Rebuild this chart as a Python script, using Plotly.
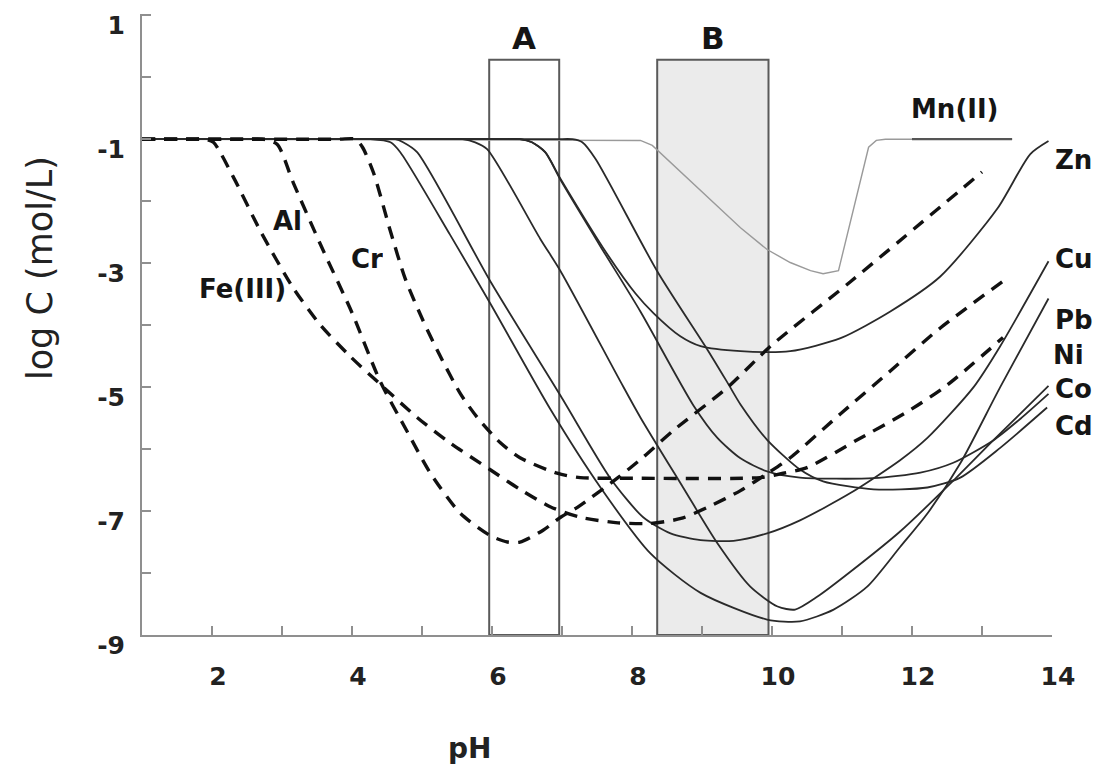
import plotly.graph_objects as go

# ---------------- data (pH, log C) ----------------
fe_ph = [1.0, 1.7, 1.90, 2.02, 2.30, 2.70, 3.16, 3.55, 3.97, 4.40, 4.93, 5.40, 5.97, 6.40, 6.83, 7.26, 7.80, 8.26, 8.70, 9.08, 9.55, 9.95, 10.26, 10.98, 11.69, 12.40, 13.29]
fe_logc = [-1.0, -1.0, -1.0, -1.05, -1.60, -2.50, -3.40, -4.00, -4.50, -4.95, -5.49, -5.90, -6.33, -6.65, -6.93, -7.10, -7.19, -7.20, -7.12, -6.94, -6.67, -6.38, -6.14, -5.43, -4.74, -4.05, -3.30]

al_ph = [1.0, 2.5, 2.72, 2.93, 3.16, 3.55, 4.00, 4.40, 4.79, 5.12, 5.55, 5.98, 6.22, 6.40, 6.73, 6.98, 7.22, 7.79, 8.16, 8.59, 9.36, 9.98, 11.12, 13.0]
al_logc = [-1.0, -1.0, -1.0, -1.08, -1.70, -2.70, -3.80, -4.90, -5.72, -6.39, -7.04, -7.40, -7.50, -7.50, -7.31, -7.10, -6.94, -6.47, -6.13, -5.70, -5.01, -4.34, -3.30, -1.53]

cr_ph = [1.0, 3.8, 4.05, 4.15, 4.31, 4.55, 4.76, 5.02, 5.26, 5.55, 5.79, 6.12, 6.40, 6.93, 7.26, 8.02, 9.83, 10.16, 10.50, 11.22, 11.93, 12.50, 13.30]
cr_logc = [-1.0, -1.0, -1.0, -1.13, -1.55, -2.49, -3.25, -3.94, -4.50, -5.11, -5.49, -5.90, -6.14, -6.39, -6.46, -6.47, -6.46, -6.39, -6.30, -5.85, -5.40, -4.97, -4.20]

mn_ph = [1.0, 8.12, 8.29, 8.47, 8.83, 9.16, 9.55, 9.93, 10.26, 10.55, 10.73, 10.95, 11.38, 11.49, 11.62, 13.43]
mn_logc = [-1.0, -1.02, -1.10, -1.29, -1.66, -2.01, -2.43, -2.78, -2.99, -3.12, -3.17, -3.12, -1.13, -1.02, -1.0, -1.0]
mn_mark_ph = [12.0, 13.43]
mn_mark_logc = [-1.0, -1.0]

zn_ph = [1.0, 6.1, 6.40, 6.57, 6.76, 6.98, 7.65, 8.05, 8.31, 8.69, 8.98, 9.55, 10.26, 10.98, 11.69, 12.40, 13.22, 13.69, 13.95]
zn_logc = [-1.0, -1.0, -1.0, -1.05, -1.21, -1.64, -2.86, -3.49, -3.81, -4.18, -4.34, -4.42, -4.42, -4.21, -3.78, -3.22, -2.12, -1.24, -1.03]

cu_ph = [1.0, 4.3, 4.62, 4.73, 4.93, 5.98, 6.98, 7.69, 8.16, 8.55, 8.98, 9.45, 9.93, 10.40, 11.12, 11.83, 12.22, 12.88, 13.26, 13.95]
cu_logc = [-1.0, -1.0, -1.0, -1.05, -1.21, -3.30, -5.14, -6.47, -7.10, -7.36, -7.47, -7.48, -7.36, -7.15, -6.71, -6.18, -5.82, -5.00, -4.34, -2.97]

pb_ph = [1.0, 4.0, 4.26, 4.55, 4.69, 5.40, 5.98, 6.83, 7.55, 8.26, 8.98, 9.93, 10.40, 10.88, 11.36, 11.83, 12.22, 12.69, 13.26, 13.95]
pb_logc = [-1.0, -1.0, -1.0, -1.05, -1.21, -2.54, -3.66, -5.35, -6.62, -7.68, -8.32, -8.75, -8.78, -8.59, -8.22, -7.58, -7.04, -6.23, -5.00, -3.57]

ni_ph = [1.0, 5.3, 5.58, 5.76, 5.93, 6.69, 6.98, 7.83, 8.12, 8.73, 9.22, 9.69, 10.08, 10.33, 10.65, 11.12, 11.83, 12.59, 13.16, 13.95]
ni_logc = [-1.0, -1.0, -1.0, -1.05, -1.16, -2.61, -3.13, -4.90, -5.49, -6.62, -7.52, -8.22, -8.54, -8.59, -8.38, -7.98, -7.33, -6.51, -5.86, -4.98]

co_ph = [1.0, 6.1, 6.40, 6.57, 6.76, 6.98, 7.55, 8.12, 8.88, 9.22, 9.55, 9.93, 10.40, 11.45, 12.12, 12.59, 13.16, 13.55, 13.95]
co_logc = [-1.0, -1.0, -1.0, -1.05, -1.21, -1.66, -2.73, -3.78, -5.30, -5.82, -6.15, -6.36, -6.46, -6.47, -6.38, -6.22, -5.86, -5.51, -5.11]

cd_ph = [1.0, 6.9, 7.15, 7.29, 7.48, 8.36, 9.08, 9.36, 9.55, 9.93, 10.40, 10.73, 11.45, 12.22, 12.69, 13.26, 13.93]
cd_logc = [-1.0, -1.0, -1.0, -1.05, -1.32, -3.13, -4.40, -4.92, -5.28, -5.85, -6.33, -6.52, -6.65, -6.62, -6.46, -5.98, -5.33]

# pH windows A and B (pH from, pH to, top log C)
window_names = ["A", "B"]
window_from = [5.96, 8.36]
window_to = [6.96, 9.95]
window_top = 0.28

# curve labels (text, pH, log C)
label_text = ["Fe(III)", "Al", "Cr", "Mn(II)", "Zn", "Cu", "Pb", "Ni", "Co", "Cd"]
label_ph = [2.43, 3.08, 4.21, 12.62, 14.31, 14.31, 14.31, 14.24, 14.31, 14.31]
label_logc = [-3.41, -2.32, -2.93, -0.52, -1.34, -2.94, -3.91, -4.48, -5.03, -5.62]

x_ticks = [2, 4, 6, 8, 10, 12, 14]
x_minor = [3, 5, 7, 9, 11, 13]
y_ticks = [-9, -7, -5, -3, -1, 1]
y_minor = [-8, -6, -4, -2, 0]

X_RANGE = [1, 14]
Y_RANGE = [-9, 1.02]

# ---------------- figure ----------------
fig = go.Figure()

DARK = "#2a2a2a"
AXIS = "#8f8f8f"
BOLD = "DejaVu Sans"

# windows
for name, a, b in zip(window_names, window_from, window_to):
    fig.add_shape(type="rect", xref="x", yref="y", x0=a, x1=b, y0=Y_RANGE[0], y1=window_top,
                  line=dict(color="#5a5a5a", width=2),
                  fillcolor="#ebebeb" if name == "B" else "rgba(0,0,0,0)", layer="below")
    fig.add_annotation(x=(a + b) / 2, y=window_top, yshift=22, text=name, showarrow=False,
                       xanchor="center", yanchor="middle",
                       font=dict(family=BOLD, size=31, color="#151515", weight="bold"))

# Mn (thin grey)
fig.add_trace(go.Scatter(x=mn_ph, y=mn_logc, mode="lines",
                         line=dict(color="#9a9a9a", width=1.4), hoverinfo="skip"))
fig.add_trace(go.Scatter(x=mn_mark_ph, y=mn_mark_logc, mode="lines",
                         line=dict(color="#555555", width=2.2), hoverinfo="skip"))

# solid metal curves
for xs, ys in [(zn_ph, zn_logc), (cu_ph, cu_logc), (pb_ph, pb_logc),
               (ni_ph, ni_logc), (co_ph, co_logc), (cd_ph, cd_logc)]:
    fig.add_trace(go.Scatter(x=xs, y=ys, mode="lines",
                             line=dict(color=DARK, width=1.8, shape="spline", smoothing=0.7),
                             hoverinfo="skip"))

# dashed curves
for xs, ys in [(fe_ph, fe_logc), (al_ph, al_logc), (cr_ph, cr_logc)]:
    fig.add_trace(go.Scatter(x=xs, y=ys, mode="lines",
                             line=dict(color="#111111", width=3.4, dash="13px,9px",
                                       shape="spline", smoothing=0.7),
                             hoverinfo="skip"))

# curve labels (paper x so labels beyond pH 14 are still drawn)
for t, x, y in zip(label_text, label_ph, label_logc):
    fig.add_annotation(xref="paper", yref="y",
                       x=(x - X_RANGE[0]) / (X_RANGE[1] - X_RANGE[0]), y=y,
                       text=t, showarrow=False, xanchor="center", yanchor="middle",
                       height=28,
                       font=dict(family=BOLD, size=26, color="#151515", weight="bold"))

# axis titles (placed as in the figure)
fig.add_annotation(xref="paper", yref="paper", x=-0.112, y=0.591, text="log C (mol/L)",
                   textangle=-90, showarrow=False, xanchor="center", yanchor="middle",
                   font=dict(family="DejaVu Sans", size=35, color="#222222"))
fig.add_annotation(xref="paper", yref="paper", x=0.3604, y=-0.183, text="pH",
                   showarrow=False, xanchor="center", yanchor="middle",
                   font=dict(family=BOLD, size=28, color="#222222", weight="bold"))

fig.update_layout(
    width=1109, height=772,
    margin=dict(l=142, r=57, t=11, b=137),
    paper_bgcolor="white", plot_bgcolor="white",
    showlegend=False,
)
fig.update_xaxes(range=X_RANGE, showgrid=False, zeroline=False,
                 showline=True, linecolor=AXIS, linewidth=2,
                 ticks="inside", ticklen=9, tickwidth=1.5, tickcolor=AXIS,
                 tickmode="array", tickvals=x_ticks, ticktext=[str(v) for v in x_ticks],
                 minor=dict(ticks="inside", ticklen=9, tickwidth=1.5, tickcolor=AXIS,
                            tickmode="array", tickvals=x_minor),
                 tickfont=dict(family=BOLD, size=25, color="#222222", weight="bold"),
                 ticklabelstandoff=18, ticklabelshift=6)
fig.update_yaxes(range=Y_RANGE, showgrid=False, zeroline=False,
                 showline=True, linecolor=AXIS, linewidth=2,
                 ticks="inside", ticklen=9, tickwidth=1.5, tickcolor=AXIS,
                 tickmode="array", tickvals=y_ticks, ticktext=[str(v) for v in y_ticks],
                 minor=dict(ticks="inside", ticklen=9, tickwidth=1.5, tickcolor=AXIS,
                            tickmode="array", tickvals=y_minor),
                 tickfont=dict(family=BOLD, size=25, color="#222222", weight="bold"),
                 ticklabelstandoff=10, ticklabelshift=10)

fig.write_html("out.html")
